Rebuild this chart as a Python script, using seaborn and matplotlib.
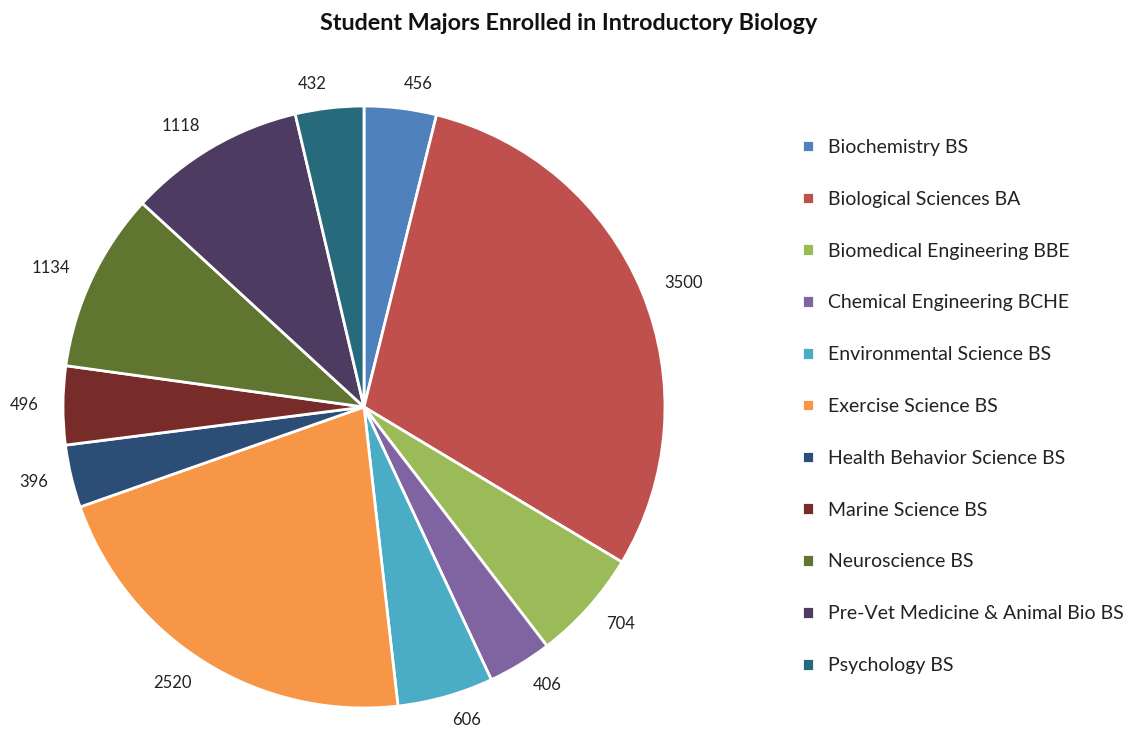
import matplotlib
matplotlib.use("Agg")
import matplotlib.pyplot as plt
import seaborn as sns

majors = [
    "Biochemistry BS", "Biological Sciences BA", "Biomedical Engineering BBE",
    "Chemical Engineering BCHE", "Environmental Science BS", "Exercise Science BS",
    "Health Behavior Science BS", "Marine Science BS", "Neuroscience BS",
    "Pre-Vet Medicine & Animal Bio BS", "Psychology BS",
]
students = [456, 3500, 704, 406, 606, 2520, 396, 496, 1134, 1118, 432]
colors = ["#4F81BD", "#C0504D", "#9BBB59", "#8064A2", "#4BACC6", "#F79646",
          "#2C4D75", "#772C2A", "#5F7530", "#4D3B62", "#276A7C"]

sns.set_theme(style="white")
plt.rcParams["font.family"] = ["Lato", "DejaVu Sans"]

W, H = 1128, 734
fig = plt.figure(figsize=(W / 100, H / 100), dpi=100)
cx, cy, r = 364, 407, 301
ax = fig.add_axes([(cx - r) / W, (H - cy - r) / H, 2 * r / W, 2 * r / H])

wedges, texts = ax.pie(
    students, colors=colors, labels=[str(v) for v in students],
    startangle=90, counterclock=False, labeldistance=1.08, radius=1,
    wedgeprops=dict(edgecolor="white", linewidth=2),
    textprops=dict(fontsize=12, color="#222222"),
)
ax.set_xlim(-1, 1)
ax.set_ylim(-1, 1)

fig.text(0.504, 1 - 23 / H, "Student Majors Enrolled in Introductory Biology",
         ha="center", va="center", fontsize=16.8, fontweight="bold", color="#111111")

fig.legend(wedges, majors, loc="upper left", bbox_to_anchor=(802 / W, 1 - 139 / H),
           frameon=False, fontsize=14, handlelength=0.62, handleheight=0.62,
           handletextpad=0.72, labelspacing=1.79, borderpad=0, borderaxespad=0,
           labelcolor="#222222")

fig.savefig("out.png", dpi=100, facecolor="white")
